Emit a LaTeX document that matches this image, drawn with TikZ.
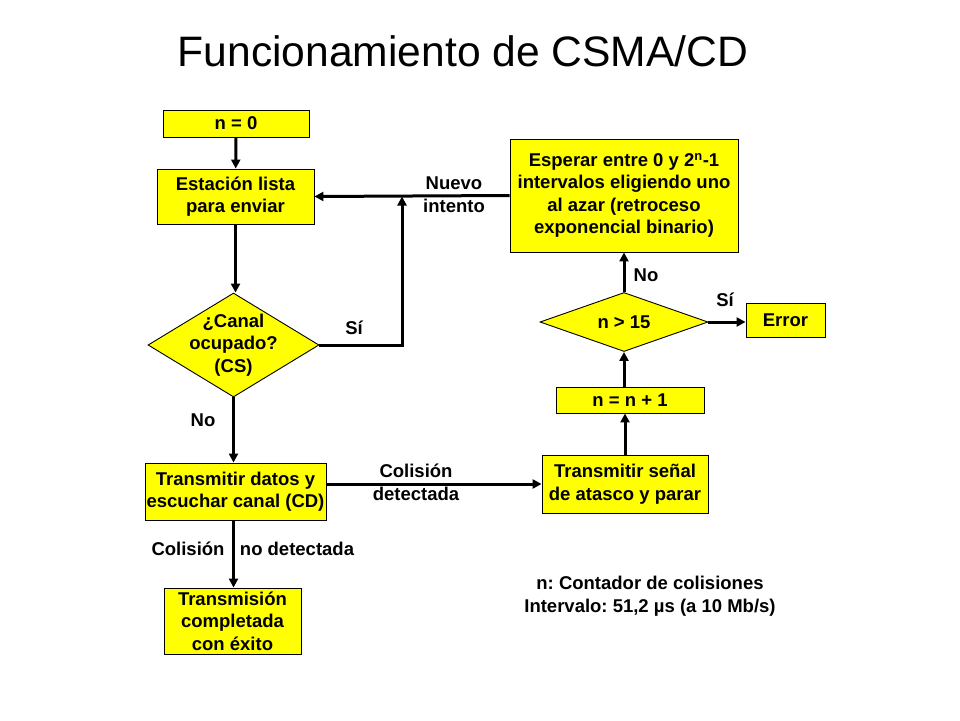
\documentclass[tikz,border=0pt]{standalone}
\usepackage{fontspec}
\setmainfont{Liberation Sans}
\usetikzlibrary{shapes.geometric,arrows.meta}
\definecolor{boxyellow}{RGB}{255,255,0}
\newcommand\boxfont{\bfseries\fontsize{18.5}{22.5}\selectfont}
\frenchspacing
\begin{document}
\begin{tikzpicture}[x=1pt,y=-1pt,
 box/.style={draw=black,line width=0.9pt,fill=boxyellow,inner sep=0pt,align=center,font=\boxfont},
 dec/.style={draw=black,line width=0.9pt,fill=boxyellow,diamond,inner sep=0pt},
 lbl/.style={font=\boxfont,inner sep=0pt,align=center},
 arr/.style={line width=3pt,-{Triangle[length=9pt,width=9pt]}},
 ln/.style={line width=3pt}]
\useasboundingbox[fill=white] (0,0) rectangle (960,720);

\node[inner sep=0pt,font=\fontsize{42.6}{50}\selectfont] (title) at (463,51) {Funcionamiento de CSMA/CD};

% left column
\node[box,minimum width=146pt,minimum height=27pt] (n0) at (236,123.5) {n = 0};
\node[box,minimum width=157pt,minimum height=55pt] (est) at (235.5,196.5) {Estación lista\\para enviar};
\node[dec,minimum width=171pt,minimum height=104pt] (d1) at (233.5,345) {};
\node[lbl] (d1t) at (d1.center) {¿Canal\\ocupado?\\(CS)};
\node[box,minimum width=181pt,minimum height=57pt] (tx) at (235.5,491.5) {Transmitir datos y\\escuchar canal (CD)};
\node[box,minimum width=137pt,minimum height=66pt] (ok) at (232.5,621) {Transmisión\\completada\\con éxito};

% right column
\node[box,minimum width=228pt,minimum height=113pt] (esp) at (624,195.5) {Esperar entre 0 y 2\textsuperscript{n}-1\\intervalos eligiendo uno\\al azar (retroceso\\exponencial binario)};
\node[dec,minimum width=168pt,minimum height=59pt] (d2) at (624,322) {};
\node[lbl] (d2t) at (d2.center) {n > 15};
\node[box,minimum width=79pt,minimum height=34pt] (err) at (785.5,320) {Error};
\node[box,minimum width=148pt,minimum height=26pt] (inc) at (630,400) {n = n + 1};
\node[box,minimum width=166pt,minimum height=58pt] (jam) at (625,484) {Transmitir señal\\de atasco y parar};

\coordinate (jn) at (402,196.5);
\coordinate (a3) at (d1.south |- tx.south);

% connectors
\draw[arr] (n0) -- (est);
\draw[arr] (est) -- (est.south |- d1.north);
\draw[arr] (d1.south) -- (d1.south |- tx.north);
\draw[arr] (a3) -- (a3 |- ok.north);
\draw[arr] (d1.east) -| (jn);
\draw[arr] (esp.west) -- (est.east);
\draw[arr] (tx.east |- jam.west) -- (jam.west);
\draw[arr] (jam.north) -- (jam.north |- inc.south);
\draw[arr] (inc.north -| d2.south) -- (d2.south);
\draw[arr] (d2.north) -- (esp.south);
\draw[arr] (d2.east) -- (d2.east -| err.west);

% labels
\node[lbl] (si1) at (354,328) {Sí};
\node[lbl] (no1) at (203,420) {No};
\node[lbl] (nuevo) at (454,194.5) {Nuevo\\intento};
\node[lbl] (coldet) at (416,482.5) {Colisión\\detectada};
\node[lbl] (col) at (188,549) {Colisión};
\node[lbl] (nodet) at (297,549) {no detectada};
\node[lbl] (no2) at (646,275) {No};
\node[lbl] (si2) at (725,300) {Sí};
\node[lbl] (note) at (650,596) {n: Contador de colisiones\\Intervalo: 51,2 µs (a 10 Mb/s)};
\end{tikzpicture}
\end{document}
